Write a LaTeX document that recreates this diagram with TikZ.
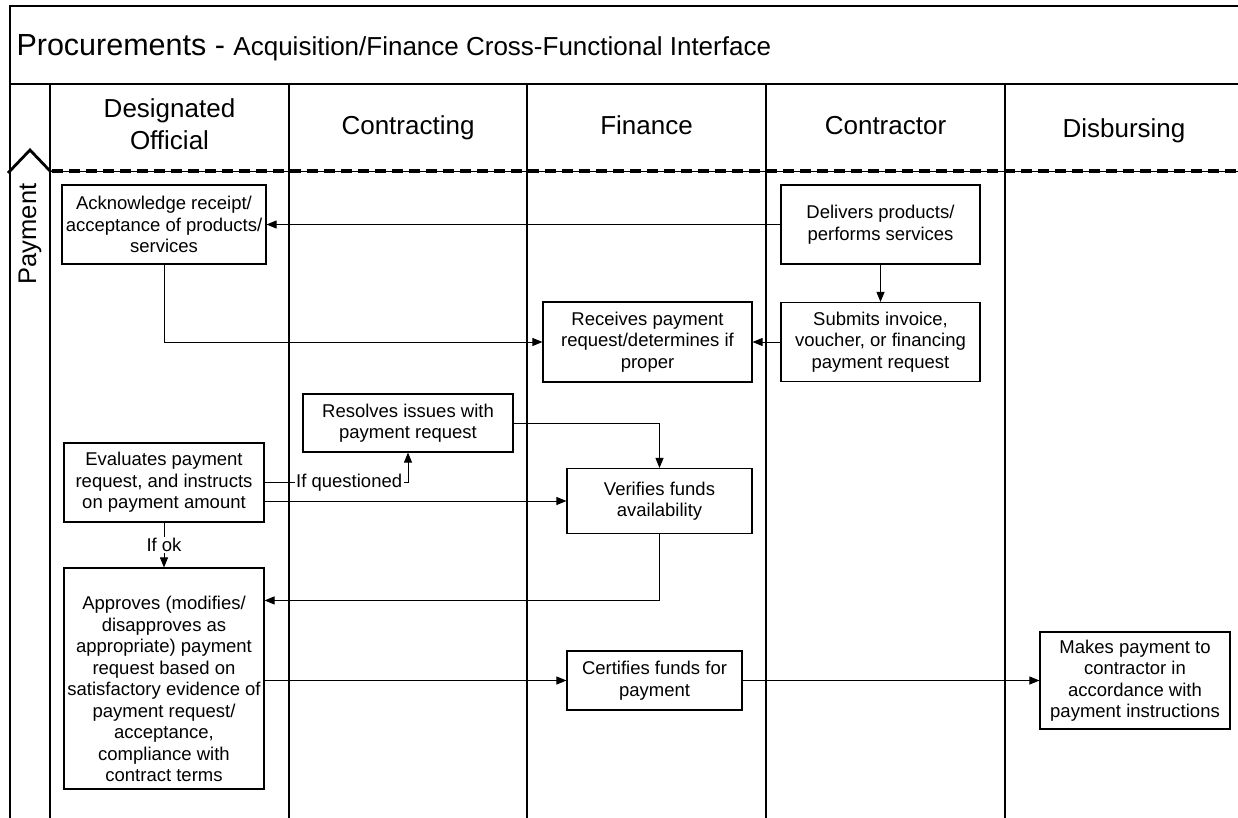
\documentclass[tikz,border=0pt]{standalone}
\usepackage{fontspec}
\setmainfont{Liberation Sans}
\usetikzlibrary{arrows.meta}
\begin{document}
\begin{tikzpicture}[x=1pt,y=-1pt,
  box/.style={draw, line width=1.1pt, fill=white, align=center, inner sep=0pt,
              font=\fontsize{18.5}{21.5}\selectfont},
  lane/.style={line width=1.4pt},
  flow/.style={line width=0.9pt, -{Triangle[length=10pt,width=8pt]}},
  tag/.style={fill=white, inner sep=1.5pt, font=\fontsize{18.5}{21.5}\selectfont},
  head/.style={align=center, font=\fontsize{26}{32}\selectfont},
  headline/.style={anchor=base, font=\fontsize{26}{32}\selectfont}]

\useasboundingbox (0,0) rectangle (1238,818);

% frame, title band and swimlanes
\draw[lane] (1238,6) -- (10,6) -- (10,818);
\draw[lane] (10,84) -- (1238,84);
\foreach \x in {50,289,527,766,1005} \draw[lane] (\x,84) -- (\x,818);

\node[anchor=base west] (title) at (13,56)
  {\fontsize{30.5}{36}\selectfont Procurements - \fontsize{26}{30}\selectfont Acquisition/Finance Cross-Functional Interface};

% lane headers
\node[head] (hdo)  at (169.5,124) {Designated\\Official};
\node[headline] (hcon) at (408,135) {Contracting};
\node[headline] (hfin) at (646.5,135) {Finance};
\node[headline] (hctr) at (885.5,135) {Contractor};
\node[headline] (hdis) at (1124,138) {Disbursing};

% phase separator with its marker
\draw[line width=0.8pt] (50,171) -- (1238,171);
\draw[line width=3.6pt, dash pattern=on 11pt off 6pt] (52,171) -- (1238,171);
\draw[line width=2.8pt] (8,173) -- (30,150) -- (51,172);
\node[rotate=90, font=\fontsize{25.5}{30}\selectfont] (phase) at (30,234) {Payment};

% activities
\node[box, minimum width=204, minimum height=79] (ack) at (164,224.5)
  {Acknowledge receipt/\\acceptance of products/\\services};
\node[box, minimum width=199, minimum height=79] (del) at (880.5,224.5)
  {Delivers products/\\performs services};
\node[box, minimum width=199, minimum height=79] (sub) at (880.5,342)
  {Submits invoice,\\voucher, or financing\\payment request};
\node[box, minimum width=209, minimum height=80] (rec) at (647.5,342)
  {Receives payment\\request/determines if\\proper};
\node[box, minimum width=210, minimum height=58] (res) at (408,423)
  {Resolves issues with\\payment request};
\node[box, minimum width=200, minimum height=79] (eva) at (164,482.5)
  {Evaluates payment\\request, and instructs\\on payment amount};
\node[box, minimum width=185, minimum height=65] (ver) at (659.5,501)
  {Verifies funds\\availability};
\node[box, minimum width=200, minimum height=221] (app) at (164,678.5)
  {\rule{0pt}{35pt}Approves (modifies/\\disapproves as\\appropriate) payment\\request based on\\satisfactory evidence of\\payment request/\\acceptance,\\compliance with\\contract terms};
\node[box, minimum width=175, minimum height=59] (cer) at (654.5,680.5)
  {Certifies funds for\\payment};
\node[box, minimum width=190, minimum height=97] (mak) at (1135,680.5)
  {Makes payment to\\contractor in\\accordance with\\payment instructions};

% flow
\draw[flow] (del.west) -- (ack.east);
\draw[flow] (del.south) -- (sub.north);
\draw[flow] (ack.south) |- (rec.west);
\draw[flow] (sub.west) -- (rec.east);
\draw[flow] (eva.east) -- node[tag, pos=0.59] {If questioned} (eva.east -| res.south) -- (res.south);
\draw[flow] (res.east) -| (ver.north);
\draw[flow] (eva.east |- ver.west) -- (ver.west);
\draw[flow] (eva.south) -- node[tag] {If ok} (app.north);
\draw[flow] (ver.south) |- ([yshift=-33pt]app.north east);
\draw[flow] (app.east |- cer.west) -- (cer.west);
\draw[flow] (cer.east) -- (mak.west);
\end{tikzpicture}
\end{document}
